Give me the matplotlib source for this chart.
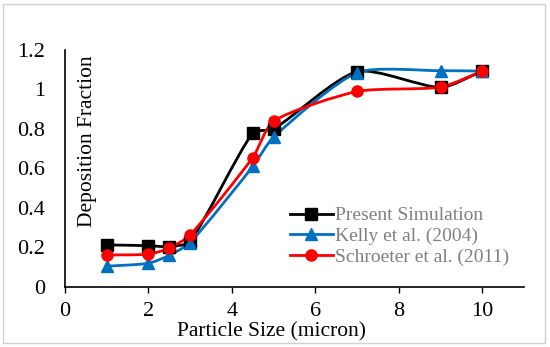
import numpy as np
import matplotlib.pyplot as plt
from matplotlib.path import Path
from matplotlib.patches import PathPatch, Rectangle

plt.rcParams['font.family'] = ['Liberation Serif', 'DejaVu Serif']

# data
sim_x = [1, 2, 2.5, 3, 4.5, 5, 7, 9, 10]
sim_y = [0.213, 0.209, 0.204, 0.23, 0.78, 0.80, 1.09, 1.01, 1.093]

kelly_x = [1, 2, 2.5, 3, 4.5, 5, 7, 9, 10]
kelly_y = [0.105, 0.12, 0.16, 0.225, 0.61, 0.76, 1.085, 1.095, 1.093]

schr_x = [1, 2, 2.5, 3, 4.5, 5, 7, 9, 10]
schr_y = [0.162, 0.166, 0.196, 0.263, 0.655, 0.84, 0.99, 1.012, 1.093]

xticks = [0, 2, 4, 6, 8, 10]
yticks = [0, 0.2, 0.4, 0.6, 0.8, 1, 1.2]
ytick_labels = ['0', '0.2', '0.4', '0.6', '0.8', '1', '1.2']


def smooth_path(ax, x, y, k=0.22):
    # excel-like smoothed line, worked out in pixel space
    tr = ax.transData
    p = tr.transform(np.column_stack([x, y]).astype(float))
    n = len(p)
    tang = []
    for i in range(n):
        a = p[i - 1] if i > 0 else p[i]
        b = p[i + 1] if i + 1 < n else p[i]
        d = b - a
        tang.append(d / np.hypot(*d))
    verts = [p[0]]
    codes = [Path.MOVETO]
    for i in range(n - 1):
        L = np.hypot(*(p[i + 1] - p[i])) * k
        verts += [p[i] + tang[i] * L, p[i + 1] - tang[i + 1] * L, p[i + 1]]
        codes += [Path.CURVE4] * 3
    verts = tr.inverted().transform(np.array(verts))
    return Path(verts, codes)


fig = plt.figure(figsize=(5.5, 3.47), dpi=100)
ax = fig.add_axes([0.118, 0.173, 0.835, 0.683])
ax.set_xlim(0, 11)
ax.set_ylim(0, 1.2)

series = [
    (sim_x, sim_y, 'black', 's', 'Present Simulation'),
    (kelly_x, kelly_y, '#0070C0', '^', 'Kelly et al. (2004)'),
    (schr_x, schr_y, '#FF0000', 'o', 'Schroeter et al. (2011)'),
]
for xs, ys, c, m, lab in series:
    ax.add_patch(PathPatch(smooth_path(ax, xs, ys), facecolor='none',
                           edgecolor=c, lw=2, zorder=2))
    ax.plot(xs, ys, ls='none', marker=m, color=c, ms=8, zorder=3)
    ax.plot([], [], color=c, lw=2, marker=m, ms=8, label=lab)

ax.set_xticks(xticks)
ax.set_yticks(yticks)
ax.set_yticklabels(ytick_labels)
ax.tick_params(axis='x', direction='out', length=4, width=1, labelsize=16, pad=7)
ax.tick_params(axis='y', length=0, labelsize=16, pad=14)
for s in ['top', 'right']:
    ax.spines[s].set_visible(False)
for s in ['left', 'bottom']:
    ax.spines[s].set_linewidth(1.2)

ax.text(0.55, 0.74, 'Deposition Fraction', rotation=90, ha='center',
        va='center', fontsize=15.5)
fig.text(0.493, 0.045, 'Particle Size (micron)', ha='center', va='center',
         fontsize=15.5)

leg = ax.legend(loc='lower left', bbox_to_anchor=(0.49, 0.09), frameon=False,
                fontsize=14, handlelength=2.2, handletextpad=0.1,
                labelspacing=0.15, borderaxespad=0.0, borderpad=0.0)
for t in leg.get_texts():
    t.set_color('#808080')

fig.patches.append(Rectangle((0.006, 0.012), 0.984, 0.976, transform=fig.transFigure,
                             fill=False, edgecolor='#d0d0d0', lw=1))

fig.savefig('out.png', dpi=100)
